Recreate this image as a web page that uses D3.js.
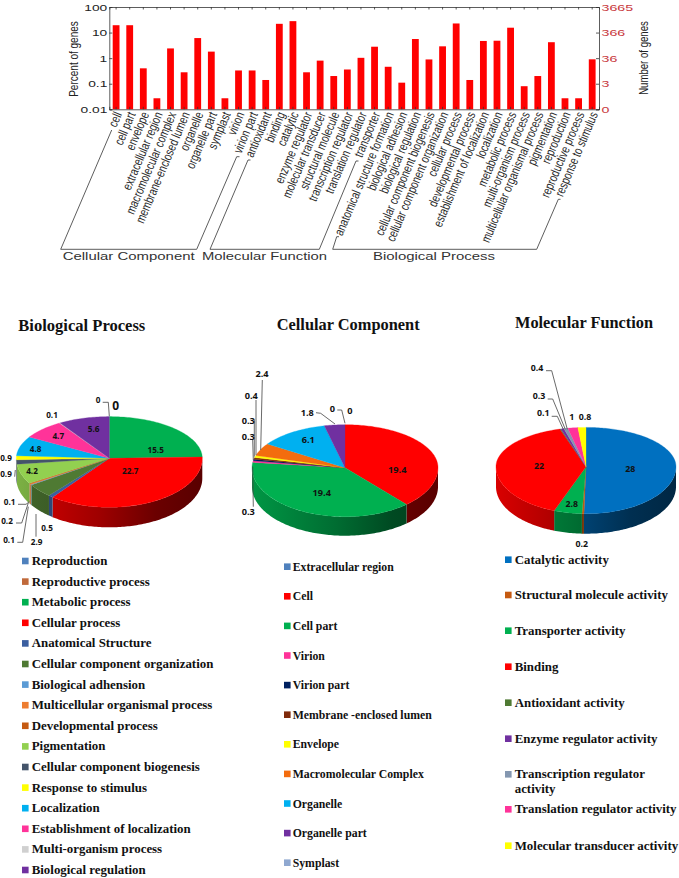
<!DOCTYPE html>
<html><head><meta charset="utf-8">
<script src="https://cdnjs.cloudflare.com/ajax/libs/d3/7.8.5/d3.min.js"></script>
<style>html,body{margin:0;padding:0;background:#fff}svg{display:block}</style>
</head><body><svg id="c" width="679" height="878"></svg>
<script>
// ---------- bar chart data ----------
const barCategories = ["cell","cell part","envelope","extracellular region","macromolecular complex","membrane-enclosed lumen","organelle","organelle part","symplast","virion","virion part","antioxidant","binding","catalytic","enzyme regulator","molecular transducer","structural molecule","transcription regulator","translation regulator","transporter","anatomical structure formation","biological adhesion","biological regulation","cellular component biogenesis","cellular component organization","cellular process","developmental process","establishment of localization","localization","metabolic process","multi-organism process","multicellular organismal process","pigmentation","reproduction","reproductive process","response to stimulus"];
const barPercent = [19.4,19.4,0.4,0.027,2.4,0.28,6.1,1.8,0.027,0.33,0.33,0.14,22,28,0.28,0.8,0.2,0.36,1.03,2.8,0.46,0.11,5.6,0.89,2.9,22.7,0.14,4.7,4.8,15.5,0.08,0.2,4.2,0.027,0.027,0.9];
const leftTicks = [100,10,1,0.1,0.01];
const rightTickLabels = ["3665","366","36","3","0"];
// ---------- pie data ----------
const bpNames = ["Reproduction","Reproductive process","Metabolic process","Cellular process","Anatomical Structure","Cellular component organization","Biological adhension","Multicellular organismal process","Developmental process","Pigmentation","Cellular component biogenesis","Response to stimulus","Localization","Establishment of  localization","Multi-organism process","Biological regulation"];
const bpValues = [0,0,15.5,22.7,0.5,2.9,0.1,0.2,0.1,4.2,0.9,0.9,4.8,4.7,0.1,5.6];
const ccNames = ["Extracellular region","Cell","Cell part","Virion","Virion part","Membrane -enclosed lumen","Envelope","Macromolecular Complex","Organelle","Organelle part","Symplast"];
const ccValues = [0,19.4,19.4,0.3,0.3,0.3,0.4,2.4,6.1,1.8,0];
const mfNames = ["Catalytic activity","Structural molecule activity","Transporter activity","Binding","Antioxidant activity","Enzyme regulator activity","Transcription regulator\nactivity","Translation regulator activity","Molecular transducer activity"];
const mfValues = [28,0.2,2.8,22,0.1,0.3,0.4,1,0.8];
// ---------- styles ----------
const bpColors = ["#4f81bd","#c0693a","#00b050","#ff0000","#3b5fa0","#4f7a33","#5b9bd5","#ed7d31","#c55a11","#92d050","#44546a","#ffff00","#00b0f0","#ff3399","#d0d0d0","#7030a0"];
const ccColors = ["#4f81bd","#ff0000","#00b050","#ff3399","#002060","#7f2a0a","#ffff00","#f36c0e","#00b0f0","#7030a0","#8fa8d0"];
const mfColors = ["#0070c0","#c55a11","#00b050","#ff0000","#4f7a33","#7030a0","#8497b0","#ff3399","#ffff00"];
// ---------- layout ----------
const bpLabelPos = [[98,400],[115.7,406],[155.7,450],[130.3,471.3],[47,527.7],[36.7,542],[9.7,501.7],[7,521],[9,540.3],[32,471.3],[6,474],[6,458.3],[35.7,448.7],[58.3,435.7],[52,415],[93.7,429.3]];
const ccLabelPos = [[350,410.7],[397.3,470],[321.7,492.3],[248.3,512],[248.3,436.3],[248.3,420.3],[251.3,395.3],[262,374],[308.3,440],[307.3,412.7],[332.3,408.3]];
const mfLabelPos = [[630.3,469.3],[581.7,544],[571.7,504],[539,466.3],[543.3,413.3],[539,396],[537,368.3],[571.7,416.7],[585,416.7]];
const bpLeaders = [[[102.7,402.3],[108.3,402.3],[109.3,416]],[[14.7,476.7],[15.3,470]],[[18,504.3],[26,504.3],[29.3,501.7]],[[16,523],[21.7,523],[28.3,503]],[[17.3,542.3],[22.7,542.3],[28.3,506.7]],[[36,536.7],[36,514]]];
const ccLeaders = [[[262.3,380],[260.7,450]],[[256,400],[256,455]],[[254.3,419.3],[254.3,456.7]],[[252.7,440],[253.3,460]],[[253.3,506.7],[252.7,466.7]],[[316,412.7],[320.7,413.3],[335,424]],[[337.3,410],[341.7,410],[345,423.3]]];
const mfLeaders = [[[546,370.7],[551.7,370.7],[567.3,429.3]],[[547.7,399],[552.7,399],[565.3,429.3]],[[551.7,416.3],[557.3,416.3],[563.3,429.3]]];

const svg = d3.select("#c");
const SANS = "'Liberation Sans',Arial,sans-serif", SERIF = "'Liberation Serif','Times New Roman',serif", LBL = "'Open Sans',sans-serif";

// ========== BAR CHART ==========
const m = {l:109.3,r:599,t:7,b:109.3};
const x = d3.scaleBand().domain(barCategories).range([m.l,m.r]).paddingInner(0.5).paddingOuter(0.25);
const y = d3.scaleLog().domain([0.01,100]).range([m.b,m.t]);
const yR = d3.scalePoint().domain(rightTickLabels).range([m.t,m.b]);
const bars = svg.append("g");
bars.selectAll("rect").data(barCategories).join("rect")
  .attr("x",d=>x(d)).attr("width",x.bandwidth())
  .attr("y",(d,i)=>y(barPercent[i])).attr("height",(d,i)=>y(0.01)-y(barPercent[i]))
  .attr("fill","#ff0000");
const axisCol="#333";
function styleAxis(g){ g.selectAll("path,line").attr("stroke",axisCol).attr("stroke-width",0.8); }
svg.append("g").attr("transform",`translate(0,${m.t})`).call(d3.axisTop(x).tickSize(-2.5).tickFormat("")).call(styleAxis);
const xAxis = svg.append("g").attr("transform",`translate(0,${m.b})`).call(d3.axisBottom(x).tickSize(-2.5).tickFormat(d=>d)).call(styleAxis);
xAxis.selectAll("text")
  .attr("font-family",SANS).attr("font-size",13).attr("fill","#2a2a2a").attr("text-anchor","end")
  .attr("x",null).attr("y",null).attr("dy",null)
  .attr("transform","translate(6,5) rotate(-67) scale(0.76,1)");
const yAxis = svg.append("g").attr("transform",`translate(${m.l},0)`).call(d3.axisLeft(y).tickValues(leftTicks).tickSize(-3).tickFormat(d=>String(d))).call(styleAxis);
yAxis.selectAll("text").attr("font-family",SANS).attr("font-size",9.5).attr("fill","#222").attr("text-anchor","end")
  .attr("x",0).attr("dy","0.34em").attr("transform","translate(-2,0) scale(1.45,1)");
const rAxis = svg.append("g").attr("transform",`translate(${m.r},0)`).call(d3.axisRight(yR).tickSize(-3)).call(styleAxis);
rAxis.selectAll("line").attr("x2",-3);
rAxis.selectAll("text").attr("font-family",SANS).attr("font-size",9.5).attr("fill","#c8383c").attr("text-anchor","start")
  .attr("x",0).attr("dy","0.34em").attr("transform","translate(2.5,0) scale(1.5,1)");
svg.append("text").text("Percent of genes").attr("transform","translate(78,59) rotate(-90) scale(0.77,1)")
  .attr("font-family",SANS).attr("font-size",13).attr("fill","#222").attr("text-anchor","middle");
svg.append("text").text("Number of genes").attr("transform","translate(648,58) rotate(-90) scale(0.74,1)")
  .attr("font-family",SANS).attr("font-size",13).attr("fill","#222").attr("text-anchor","middle");
const line = d3.line();
const bracketData = [
 {name:"Cellular Component",pts:[[111.7,130],[60.7,249.3],[196.7,249.3],[236.7,156.7],[239.5,156.7]],tx:62.7,tw:132},
 {name:"Molecular Function",pts:[[250.5,160],[248,160],[210,249.3],[319.3,249.3],[356,161],[358.5,161]],tx:202,tw:125},
 {name:"Biological Process",pts:[[339,236.7],[336.7,236.7],[332.7,249.3],[536.7,249.3],[558.3,199.3],[560.5,199.3]],tx:373,tw:122}];
bracketData.forEach(b=>{
  svg.append("path").attr("d",line(b.pts)).attr("fill","none").attr("stroke","#333").attr("stroke-width",0.8);
  svg.append("text").text(b.name).attr("x",b.tx).attr("y",260).attr("font-family",SANS).attr("font-size",10.5).attr("fill","#333")
    .attr("textLength",b.tw).attr("lengthAdjust","spacingAndGlyphs");
});

// ========== PIES ==========
const defs = svg.append("defs");
function drawPie(o){
  const arcs = d3.pie().sort(null).value(d=>d)(o.values);
  const P = (t,ex=0)=>{const c=Math.cos(t);return [o.cx+o.rx*Math.sin(t), o.cy-c*(c>0?o.ryT:o.ryB)+ex];};
  const samples=(a,b)=>{const n=Math.max(2,Math.ceil((b-a)/0.02));return d3.range(n+1).map(i=>a+(b-a)*i/n);};
  const g=svg.append("g");
  arcs.forEach((a,i)=>{
    const s=Math.max(a.startAngle,Math.PI/2), e=Math.min(a.endAngle,Math.PI*1.5);
    if(e<=s) return;
    const id=o.id+"g"+i, col=d3.rgb(o.colors[i]);
    const mul=f=>d3.rgb(col.r*f,col.g*f,col.b*f).formatHex();
    const gr=defs.append("linearGradient").attr("id",id).attr("gradientUnits","userSpaceOnUse")
      .attr("x1",o.cx-o.rx).attr("x2",o.cx+o.rx).attr("y1",0).attr("y2",0);
    [[0,0.85],[0.45,0.62],[0.75,0.42],[1,0.35]].forEach(([p,f])=>gr.append("stop").attr("offset",p).attr("stop-color",mul(f)));
    const ang=samples(s,e);
    const pts=ang.map(t=>P(t)).concat(ang.slice().reverse().map(t=>P(t,o.depth)));
    g.append("path").attr("d",line(pts)+"Z").attr("fill",`url(#${id})`);
  });
  arcs.forEach((a,i)=>{
    if(a.endAngle<=a.startAngle) return;
    const pts=[[o.cx,o.cy]].concat(samples(a.startAngle,a.endAngle).map(t=>P(t)));
    g.append("path").attr("d",line(pts)+"Z").attr("fill",o.colors[i]).attr("stroke",o.colors[i]).attr("stroke-width",0.3);
  });
  o.leaders.forEach(l=>g.append("path").attr("d",line(l)).attr("fill","none").attr("stroke","#444").attr("stroke-width",0.8));
  o.values.forEach((v,i)=>{
    const big=o.bigIndex===i;
    g.append("text").text(v).attr("x",o.labelPos[i][0]).attr("y",o.labelPos[i][1]).attr("dy","0.35em")
      .attr("text-anchor","middle").attr("font-family",LBL).attr("font-weight",700)
      .attr("font-size",big?12:o.fs).attr("fill","#111");
  });
  svg.append("text").text(o.title).attr("x",o.titleX).attr("y",o.titleY).attr("font-family",SERIF).attr("font-weight",700)
    .attr("font-size",17).attr("fill","#111").attr("textLength",o.titleW).attr("lengthAdjust","spacingAndGlyphs");
  o.names.forEach((n,i)=>{
    const ly=o.legY[i];
    svg.append("rect").attr("x",o.swX).attr("y",ly-3.3).attr("width",6.6).attr("height",6.6).attr("fill",o.colors[i]);
    const t=svg.append("text").attr("font-family",SERIF).attr("font-weight",700).attr("font-size",o.legFs).attr("fill","#111");
    n.split("\n").forEach((s,k)=>t.append("tspan").attr("x",o.txtX).attr("y",ly+4+k*14.5).text(s));
  });
}
drawPie({id:"bp",values:bpValues,names:bpNames,colors:bpColors,cx:109.3,cy:458.3,rx:93,ryT:41.7,ryB:49,depth:20,labelPos:bpLabelPos,leaders:bpLeaders,bigIndex:1,fs:8.2,
  title:"Biological Process",titleX:18.3,titleY:331,titleW:127,swX:22,txtX:31.7,legFs:12.9,legY:bpNames.map((d,i)=>561+i*20.6)});
drawPie({id:"cc",values:ccValues,names:ccNames,colors:ccColors,cx:345,cy:467.7,rx:93,ryT:43,ryB:49,depth:19,labelPos:ccLabelPos,leaders:ccLeaders,fs:9.2,
  title:"Cellular Component",titleX:276.7,titleY:330,titleW:143,swX:284,txtX:292.7,legFs:11.75,legY:ccNames.map((d,i)=>566.7+i*29.6)});
drawPie({id:"mf",values:mfValues,names:mfNames,colors:mfColors,cx:586,cy:466.7,rx:90,ryT:39.3,ryB:47,depth:20,labelPos:mfLabelPos,leaders:mfLeaders,fs:8.8,
  title:"Molecular Function",titleX:515,titleY:328,titleW:138,swX:505,txtX:514.7,legFs:12.9,legY:[559.7,595,630.7,666.7,702.7,738.7,774.3,809.3,845.7]});
</script></body></html>
